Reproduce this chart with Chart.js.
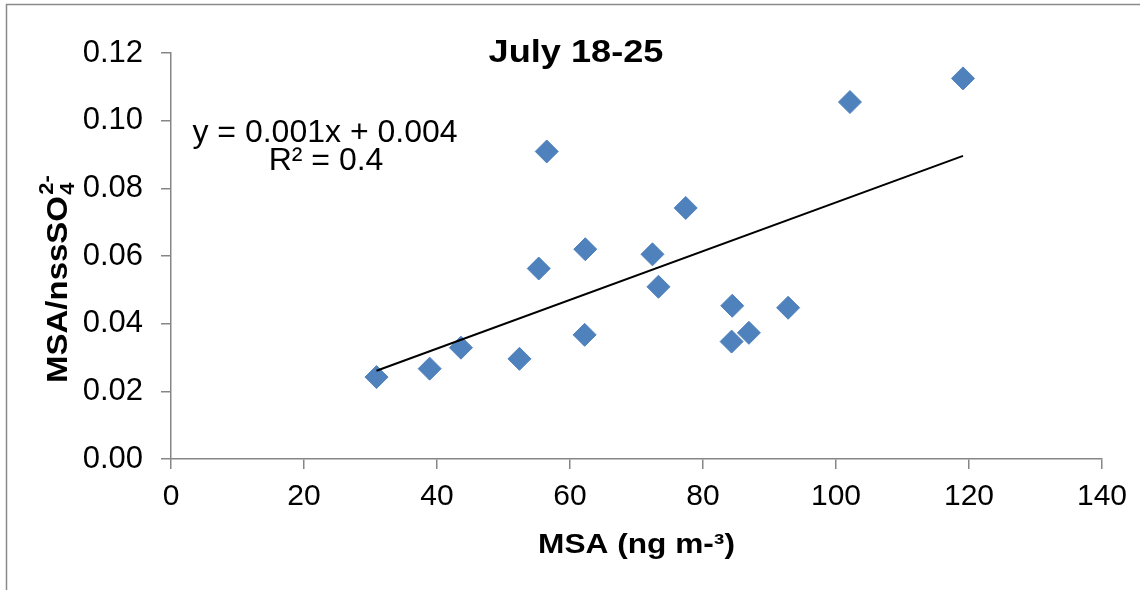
<!DOCTYPE html>
<html>
<head>
<meta charset="utf-8">
<script src="https://cdn.jsdelivr.net/npm/chart.js@4.4.0/dist/chart.umd.min.js"></script>
<style>
  html, body { margin: 0; padding: 0; background: #fff; }
</style>
</head>
<body>
<canvas id="chart" width="1140" height="590"></canvas>
<script>
// values
const msa   = [30.9, 38.9, 43.6, 52.4, 55.3, 56.5, 62.2, 62.3, 72.4, 73.3, 77.4, 84.3, 84.4, 86.9, 92.8, 102.1, 119.1];
const ratio = [0.0242, 0.0267, 0.0329, 0.0296, 0.0563, 0.0909, 0.0367, 0.0620, 0.0605, 0.0509, 0.0742, 0.0347, 0.0453, 0.0373, 0.0447, 0.1055, 0.1125];
// linear trendline ends, as drawn
const trendX = [30.9, 119.1];
const trendY = [0.0261, 0.0896];

const chartTitle = 'July 18-25';
const xTitle = 'MSA (ng m-\u00B3)';
const eqLines = ['y = 0.001x + 0.004', 'R\u00B2 = 0.4'];

const FONT = '"Liberation Sans", Arial, sans-serif';
const AXIS_GREY = '#868686';

function drawStretched(ctx, txt, x, y, font, sx, align) {
    ctx.save();
    ctx.translate(x, y);
    ctx.scale(sx, 1);
    ctx.font = font;
    ctx.textAlign = align;
    ctx.textBaseline = 'alphabetic';
    ctx.fillText(txt, 0, 0);
    ctx.restore();
}

const textPlugin = {
    id: 'texts',
    beforeDraw(chart) {
        const ctx = chart.ctx;
        ctx.save();
        ctx.strokeStyle = '#8a8a8a';
        ctx.lineWidth = 1.5;
        ctx.strokeRect(6.5, 4.5, 1300, 1300); // outer frame, runs off right/bottom
        ctx.restore();
    },
    afterDraw(chart) {
        const ctx = chart.ctx;
        const a = chart.chartArea;
        ctx.save();
        ctx.fillStyle = '#000';

        // chart title
        drawStretched(ctx, chartTitle, 576, 61.5, 'bold 32px ' + FONT, 1.13, 'center');

        // trendline equation
        drawStretched(ctx, eqLines[0], 325, 142, '32px ' + FONT, 1.0, 'center');
        drawStretched(ctx, eqLines[1], 326, 170, '32px ' + FONT, 1.0, 'center');

        // x axis title
        drawStretched(ctx, xTitle, (a.left + a.right) / 2, 553, 'bold 28px ' + FONT, 1.13, 'center');

        // y axis title with sub/superscript
        ctx.save();
        ctx.translate(67, 383);
        ctx.rotate(-Math.PI / 2);
        ctx.scale(1.1, 1);
        ctx.textBaseline = 'alphabetic';
        ctx.textAlign = 'left';
        ctx.font = 'bold 30px ' + FONT;
        ctx.fillText('MSA/nssSO', 0, 0);
        const w = ctx.measureText('MSA/nssSO').width;
        ctx.font = 'bold 20px ' + FONT;
        ctx.fillText('4', w + 1, 7);
        ctx.fillText('2-', w + 1, -14);
        ctx.restore();

        ctx.restore();
    }
};

const ctx = document.getElementById('chart').getContext('2d');
const chart = new Chart(ctx, {
    type: 'scatter',
    data: {
        datasets: [
            {
                type: 'line',
                label: 'Linear',
                data: trendX.map((x, i) => ({ x: x, y: trendY[i] })),
                borderColor: '#000',
                borderWidth: 2,
                pointRadius: 0,
                fill: false,
                order: 0
            },
            {
                label: 'MSA/nssSO4',
                data: msa.map((x, i) => ({ x: x, y: ratio[i] })),
                pointStyle: 'rectRot',
                pointRadius: 11.5,
                pointHoverRadius: 11.5,
                backgroundColor: '#4F81BD',
                borderColor: '#4F81BD',
                borderWidth: 1,
                order: 1
            }
        ]
    },
    options: {
        responsive: false,
        animation: false,
        events: [],
        layout: {
            padding: { top: 53, right: 38, bottom: 0, left: 0 }
        },
        plugins: {
            legend: { display: false },
            tooltip: { enabled: false },
            title: { display: false }
        },
        scales: {
            x: {
                type: 'linear',
                min: 0,
                max: 140,
                ticks: {
                    stepSize: 20,
                    color: '#000',
                    padding: 10,
                    maxRotation: 0,
                    font: { family: FONT, size: 30 }
                },
                grid: {
                    drawOnChartArea: false,
                    drawTicks: true,
                    tickLength: 10,
                    color: AXIS_GREY,
                    lineWidth: 1.5
                },
                border: { color: AXIS_GREY, width: 1.5 },
                afterFit: (s) => { s.height = 131; }
            },
            y: {
                min: 0,
                max: 0.12,
                ticks: {
                    stepSize: 0.02,
                    color: '#000',
                    padding: 18,
                    font: { family: FONT, size: 31 },
                    callback: (v) => Number(v).toFixed(2)
                },
                grid: {
                    drawOnChartArea: false,
                    drawTicks: true,
                    tickLength: 10,
                    color: AXIS_GREY,
                    lineWidth: 1.5
                },
                border: { color: AXIS_GREY, width: 1.5 },
                afterFit: (s) => { s.width = 171; }
            }
        }
    },
    plugins: [textPlugin]
});
</script>
</body>
</html>
